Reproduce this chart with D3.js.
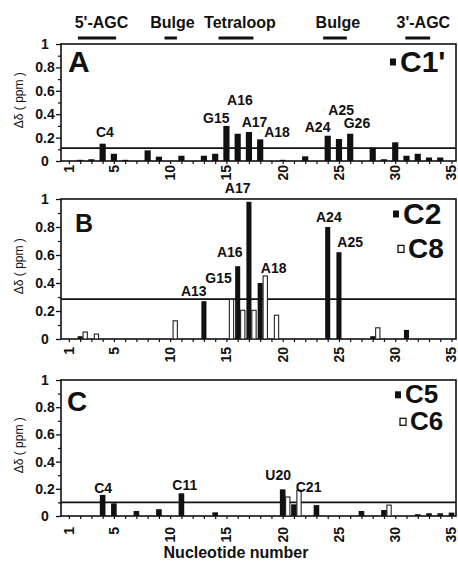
<!DOCTYPE html>
<html>
<head>
<meta charset="utf-8">
<script src="https://cdnjs.cloudflare.com/ajax/libs/d3/7.8.5/d3.min.js"></script>
<style>
  body { margin: 0; background: #fff; }
  text { font-family: "Liberation Sans", Arial, sans-serif; font-weight: bold; fill: #111; }
</style>
</head>
<body>
<div id="chart"></div>
<script>
// ---- data ----
const xTickLabels = [1, 5, 10, 15, 20, 25, 30, 35];
const yTickValues = [0, 0.2, 0.4, 0.6, 0.8, 1];

// region annotations above panel A (nucleotide ranges)
const regionNames = ["5'-AGC", "Bulge", "Tetraloop", "Bulge", "3'-AGC"];
const regionStart = [1.8, 9.5, 14.3, 23.6, 30.9];
const regionEnd = [5.2, 10.6, 17.4, 25.7, 33.1];
const regionLabelAt = [3.9, 10.2, 16.2, 24.9, 32.5];

// Panel A : C1'
const aNuc = [2, 3, 4, 5, 6, 8, 9, 11, 13, 14, 15, 16, 17, 18, 20, 22, 24, 25, 26, 28, 29, 30, 31, 32, 33, 34];
const aC1 = [0.01, 0.015, 0.148, 0.062, 0.01, 0.091, 0.037, 0.045, 0.045, 0.062, 0.30, 0.233, 0.248, 0.185,
             0.01, 0.04, 0.216, 0.188, 0.233, 0.114, 0.015, 0.16, 0.045, 0.062, 0.03, 0.03];
const aCut = 0.11;
const aLabels = ["C4", "G15", "A16", "A17", "A18", "A24", "A25", "G26"];
const aLabelNuc = [4.2, 14.1, 16.2, 17.5, 19.5, 23.1, 25.2, 26.6];
const aLabelVal = [0.205, 0.325, 0.48, 0.29, 0.205, 0.25, 0.39, 0.28];

// Panel B : C2 (filled) and C8 (open)
const bC2Nuc = [2, 13, 16, 17, 18, 24, 25, 28, 31];
const bC2 = [0.02, 0.27, 0.52, 0.98, 0.40, 0.80, 0.62, 0.02, 0.065];
const bC8Nuc = [2, 3, 10, 15, 16, 17, 18, 19, 28];
const bC8 = [0.05, 0.035, 0.13, 0.284, 0.205, 0.205, 0.45, 0.17, 0.08];
const bCut = 0.285;
const bLabels = ["A13", "G15", "A16", "A17", "A18", "A24", "A25"];
const bLabelNuc = [12.1, 14.3, 15.3, 16.0, 19.2, 24.1, 26.0];
const bLabelVal = [0.31, 0.40, 0.585, 1.04, 0.47, 0.836, 0.66];

// Panel C : C5 (filled) and C6 (open)
const cC5Nuc = [4, 5, 7, 9, 11, 14, 20, 21, 23, 27, 29, 32, 33, 34, 35];
const cC5 = [0.155, 0.093, 0.037, 0.05, 0.167, 0.027, 0.196, 0.086, 0.08, 0.037, 0.044, 0.013, 0.02, 0.02, 0.025];
const cC6Nuc = [20, 21, 29];
const cC6 = [0.14, 0.19, 0.08];
const cCut = 0.10;
const cLabels = ["C4", "C11", "U20", "C21"];
const cLabelNuc = [4.05, 11.3, 19.6, 22.3];
const cLabelVal = [0.17, 0.19, 0.265, 0.175];

// ---- layout ----
const W = 458, H = 561;
const left = 61, right = 456;

const svg = d3.select('#chart').append('svg')
    .attr('width', W)
    .attr('height', H);

const x = d3.scaleLinear().domain([0.3, 35.4]).range([left, right]);

const panels = [
    {
        letter: 'A', letterSize: 30, letterX: 68, letterY: 72,
        base: 161, top: 44, labelGap: 4,
        filled: { nuc: aNuc, val: aC1, name: "C1'" },
        open: null,
        cut: aCut,
        labels: aLabels, labelNuc: aLabelNuc, labelVal: aLabelVal,
        legend: [{ x: 400, y: 72, size: 30 }],
        barW: 0.55
    },
    {
        letter: 'B', letterSize: 25, letterX: 75, letterY: 232,
        base: 339, top: 199, labelGap: 8,
        filled: { nuc: bC2Nuc, val: bC2, name: 'C2' },
        open: { nuc: bC8Nuc, val: bC8, name: 'C8' },
        cut: bCut,
        labels: bLabels, labelNuc: bLabelNuc, labelVal: bLabelVal,
        legend: [{ x: 403, y: 224, size: 30 }, { x: 408, y: 258, size: 28 }],
        barW: 0.45
    },
    {
        letter: 'C', letterSize: 28, letterX: 67, letterY: 411,
        base: 516, top: 380, labelGap: 11,
        filled: { nuc: cC5Nuc, val: cC5, name: 'C5' },
        open: { nuc: cC6Nuc, val: cC6, name: 'C6' },
        cut: cCut,
        labels: cLabels, labelNuc: cLabelNuc, labelVal: cLabelVal,
        legend: [{ x: 405, y: 403, size: 26 }, { x: 410, y: 430, size: 26 }],
        barW: 0.5
    }
];

function drawPanel(p) {
    const y = d3.scaleLinear().domain([0, 1]).range([p.base, p.top]);
    const g = svg.append('g');

    // y axis, major + minor ticks
    const yAxis = d3.axisLeft(y).tickValues(yTickValues).tickSize(5).tickSizeOuter(0)
        .tickFormat(d => String(+d.toFixed(1)));
    const ya = g.append('g').attr('transform', `translate(${left},0)`).call(yAxis);
    ya.select('.domain').remove();
    ya.selectAll('line').attr('stroke', '#111').attr('stroke-width', 1.3);
    ya.selectAll('text')
        .attr('x', 45 - left)
        .attr('text-anchor', 'middle')
        .style('font-size', '14px')
        .style('font-family', '"Liberation Sans", Arial, sans-serif')
        .style('font-weight', 'bold');
    const yMinor = d3.axisLeft(y).tickValues([0.1, 0.3, 0.5, 0.7, 0.9]).tickSize(3).tickFormat('');
    const ym = g.append('g').attr('transform', `translate(${left},0)`).call(yMinor);
    ym.select('.domain').remove();
    ym.selectAll('line').attr('stroke', '#111').attr('stroke-width', 1.2);

    // x axis: a tick at each nucleotide, labels at 1,5,...,35
    const xMinor = d3.axisBottom(x).tickValues(d3.range(1, 36)).tickSize(3).tickFormat('');
    const xm = g.append('g').attr('transform', `translate(0,${p.base})`).call(xMinor);
    xm.select('.domain').remove();
    xm.selectAll('line').attr('stroke', '#111').attr('stroke-width', 1.2);

    g.selectAll('.xlab')
        .data(xTickLabels)
        .join('text')
        .attr('class', 'xlab')
        .attr('transform', d => `translate(${x(d)},${p.base + p.labelGap}) rotate(-90)`)
        .attr('text-anchor', 'end')
        .attr('dy', '0.35em')
        .style('font-size', '14px')
        .text(d => d);

    // y label
    g.append('text')
        .attr('transform', `translate(19,${y(0.52)}) rotate(-90)`)
        .attr('text-anchor', 'middle')
        .attr('dy', '0.35em')
        .style('font-size', '12px')
        .style('font-weight', 'normal')
        .text('Δδ  ( ppm )');

    // frame
    g.append('rect')
        .attr('x', left)
        .attr('y', p.top)
        .attr('width', right - left)
        .attr('height', p.base - p.top)
        .attr('fill', 'none')
        .attr('stroke', '#111')
        .attr('stroke-width', 1.6);

    // cutoff line
    g.append('line')
        .attr('x1', left).attr('x2', right)
        .attr('y1', y(p.cut)).attr('y2', y(p.cut))
        .attr('stroke', '#111')
        .attr('stroke-width', 1.6);

    // filled bars
    const bw = x(p.barW) - x(0);
    g.selectAll('.fbar')
        .data(p.filled.nuc.map((n, i) => ({ n: n, v: p.filled.val[i] })))
        .join('rect')
        .attr('class', 'fbar')
        .attr('x', d => x(d.n) - bw / 2)
        .attr('y', d => y(d.v))
        .attr('width', bw)
        .attr('height', d => y(0) - y(d.v))
        .attr('fill', '#111');

    // open bars
    if (p.open) {
        const ow = x(0.38) - x(0);
        g.selectAll('.obar')
            .data(p.open.nuc.map((n, i) => ({ n: n, v: p.open.val[i] })))
            .join('rect')
            .attr('class', 'obar')
            .attr('x', d => x(d.n + 0.45) - ow / 2)
            .attr('y', d => y(d.v))
            .attr('width', ow)
            .attr('height', d => y(0) - y(d.v))
            .attr('fill', '#fff')
            .attr('stroke', '#222')
            .attr('stroke-width', 1.1);
    }

    // bar labels
    g.selectAll('.blab')
        .data(p.labels.map((t, i) => ({ t: t, n: p.labelNuc[i], v: p.labelVal[i] })))
        .join('text')
        .attr('class', 'blab')
        .attr('x', d => x(d.n))
        .attr('y', d => y(d.v))
        .attr('text-anchor', 'middle')
        .style('font-size', '14px')
        .text(d => d.t);

    // panel letter
    g.append('text')
        .attr('x', p.letterX)
        .attr('y', p.letterY)
        .style('font-size', p.letterSize + 'px')
        .text(p.letter);

    // legend
    const series = p.open ? [p.filled, p.open] : [p.filled];
    series.forEach((s, i) => {
        const lg = p.legend[i];
        g.append('rect')
            .attr('x', lg.x - 10)
            .attr('y', lg.y - lg.size * 0.45)
            .attr('width', 6)
            .attr('height', 7)
            .attr('fill', i === 0 ? '#111' : '#fff')
            .attr('stroke', '#111')
            .attr('stroke-width', i === 0 ? 0 : 1.3);
        g.append('text')
            .attr('x', lg.x)
            .attr('y', lg.y)
            .style('font-size', lg.size + 'px')
            .text(s.name);
    });
}

panels.forEach(drawPanel);

// region annotations
const ann = svg.append('g');
ann.selectAll('.rline')
    .data(regionStart.map((s, i) => ({ s: s, e: regionEnd[i] })))
    .join('line')
    .attr('class', 'rline')
    .attr('x1', d => x(d.s))
    .attr('x2', d => x(d.e))
    .attr('y1', 38).attr('y2', 38)
    .attr('stroke', '#111')
    .attr('stroke-width', 3);
ann.selectAll('.rtext')
    .data(regionNames.map((t, i) => ({ t: t, n: regionLabelAt[i] })))
    .join('text')
    .attr('class', 'rtext')
    .attr('x', d => x(d.n))
    .attr('y', 28)
    .attr('text-anchor', 'middle')
    .style('font-size', '16px')
    .text(d => d.t);

// x title
svg.append('text')
    .attr('x', 236)
    .attr('y', 558)
    .attr('text-anchor', 'middle')
    .style('font-size', '16px')
    .text('Nucleotide number');
</script>
</body>
</html>
